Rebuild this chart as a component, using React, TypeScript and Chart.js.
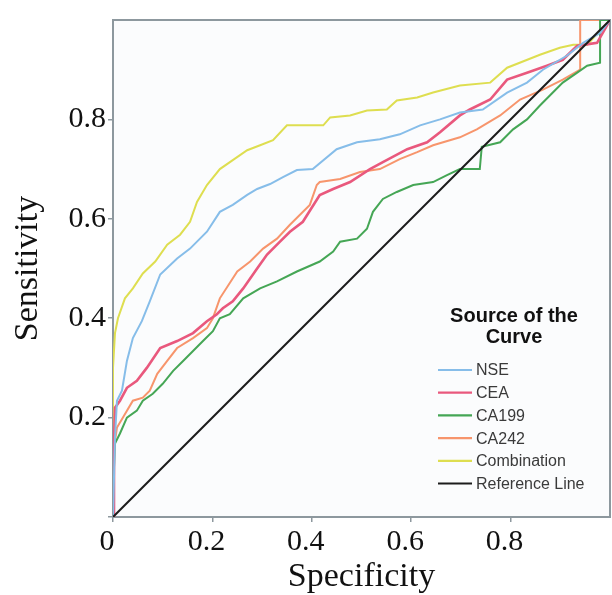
import React, { useEffect, useRef } from 'react';
import { Chart, registerables } from 'chart.js';

Chart.register(...registerables);

// ---------- data ----------
const SERIES_NAMES = ['NSE', 'CEA', 'CA199', 'CA242', 'Combination', 'Reference Line'];
const SERIES_COLORS = ['#86bde9', '#e9587d', '#45a655', '#f7956c', '#dede50', '#1c1c1c'];
const SERIES_WIDTHS = [2, 2.6, 2, 2, 2, 2];

const NSE_X = [0, 0.004, 0.008, 0.018, 0.028, 0.04, 0.058, 0.074, 0.095, 0.129, 0.155, 0.189, 0.215, 0.241, 0.27, 0.29, 0.316, 0.342, 0.37, 0.402, 0.45, 0.491, 0.537, 0.577, 0.618, 0.658, 0.698, 0.744, 0.793, 0.833, 0.865, 0.913, 0.946, 0.98, 1];
const NSE_Y = [0, 0.16, 0.234, 0.254, 0.314, 0.36, 0.394, 0.434, 0.488, 0.52, 0.54, 0.574, 0.614, 0.628, 0.648, 0.66, 0.67, 0.684, 0.698, 0.7, 0.74, 0.754, 0.76, 0.77, 0.788, 0.8, 0.814, 0.82, 0.854, 0.874, 0.9, 0.928, 0.954, 0.974, 1];

const CEA_X = [0, 0.002, 0.004, 0.014, 0.028, 0.048, 0.068, 0.095, 0.129, 0.161, 0.189, 0.209, 0.221, 0.241, 0.262, 0.29, 0.31, 0.336, 0.356, 0.382, 0.416, 0.443, 0.477, 0.517, 0.543, 0.592, 0.632, 0.658, 0.698, 0.718, 0.759, 0.793, 0.833, 0.873, 0.905, 0.934, 0.974, 1];
const CEA_Y = [0, 0.15, 0.22, 0.234, 0.26, 0.274, 0.3, 0.34, 0.354, 0.37, 0.394, 0.408, 0.42, 0.434, 0.46, 0.5, 0.528, 0.554, 0.574, 0.594, 0.648, 0.66, 0.674, 0.7, 0.714, 0.74, 0.754, 0.774, 0.808, 0.82, 0.84, 0.88, 0.894, 0.908, 0.92, 0.948, 0.954, 1];

const CA199_X = [0, 0.002, 0.004, 0.014, 0.028, 0.048, 0.06, 0.08, 0.1, 0.121, 0.141, 0.161, 0.181, 0.201, 0.215, 0.235, 0.262, 0.296, 0.33, 0.37, 0.416, 0.443, 0.457, 0.491, 0.511, 0.523, 0.543, 0.571, 0.604, 0.644, 0.672, 0.698, 0.738, 0.742, 0.779, 0.805, 0.833, 0.859, 0.879, 0.905, 0.934, 0.954, 0.98, 0.98, 1];
const CA199_Y = [0, 0.1, 0.148, 0.168, 0.2, 0.214, 0.234, 0.248, 0.268, 0.294, 0.314, 0.334, 0.354, 0.374, 0.4, 0.408, 0.44, 0.46, 0.474, 0.494, 0.514, 0.534, 0.554, 0.56, 0.58, 0.614, 0.64, 0.654, 0.668, 0.674, 0.688, 0.7, 0.7, 0.745, 0.754, 0.78, 0.8, 0.828, 0.848, 0.874, 0.894, 0.908, 0.914, 1, 1];

const CA242_X = [0, 0.002, 0.008, 0.02, 0.04, 0.06, 0.074, 0.089, 0.109, 0.129, 0.161, 0.189, 0.201, 0.215, 0.25, 0.276, 0.302, 0.33, 0.356, 0.396, 0.41, 0.416, 0.457, 0.497, 0.537, 0.577, 0.612, 0.644, 0.698, 0.732, 0.779, 0.819, 0.865, 0.905, 0.94, 0.94, 1];
const CA242_Y = [0, 0.14, 0.18, 0.2, 0.234, 0.24, 0.254, 0.288, 0.314, 0.34, 0.36, 0.38, 0.4, 0.44, 0.494, 0.514, 0.54, 0.56, 0.588, 0.628, 0.668, 0.674, 0.68, 0.694, 0.7, 0.72, 0.734, 0.748, 0.764, 0.78, 0.808, 0.84, 0.86, 0.88, 0.9, 1, 1];

const COMBO_X = [0, 0, 0.004, 0.01, 0.024, 0.04, 0.06, 0.085, 0.109, 0.135, 0.155, 0.169, 0.189, 0.215, 0.241, 0.27, 0.296, 0.322, 0.35, 0.396, 0.423, 0.437, 0.477, 0.511, 0.551, 0.571, 0.612, 0.644, 0.698, 0.759, 0.793, 0.859, 0.899, 0.926, 0.954, 1];
const COMBO_Y = [0, 0.3, 0.37, 0.4, 0.44, 0.46, 0.49, 0.514, 0.548, 0.568, 0.594, 0.634, 0.668, 0.7, 0.718, 0.738, 0.748, 0.758, 0.788, 0.788, 0.788, 0.804, 0.808, 0.818, 0.82, 0.838, 0.844, 0.854, 0.868, 0.874, 0.904, 0.93, 0.944, 0.95, 0.95, 1];

const REF_X = [0, 1];
const REF_Y = [0, 1];

const X_TICKS = [0, 0.2, 0.4, 0.6, 0.8];
const X_TICK_LABELS = ['0', '0.2', '0.4', '0.6', '0.8'];
const Y_TICKS = [0, 0.2, 0.4, 0.6, 0.8];
const Y_TICK_LABELS = ['', '0.2', '0.4', '0.6', '0.8'];

const X_TITLE = 'Specificity';
const Y_TITLE = 'Sensitivity';
const LEGEND_TITLE = ['Source of the', 'Curve'];

const SERIES_X = [NSE_X, CEA_X, CA199_X, CA242_X, COMBO_X, REF_X];
const SERIES_Y = [NSE_Y, CEA_Y, CA199_Y, CA242_Y, COMBO_Y, REF_Y];

const AXIS_GRAY = '#8d989e';
const SERIF = '"Liberation Serif", "Times New Roman", serif';
const SANS = '"Liberation Sans", Arial, sans-serif';

const framePlugin = {
  id: 'frame',
  beforeDatasetsDraw(chart: any) {
    const { ctx, chartArea: a } = chart;
    ctx.save();
    ctx.fillStyle = '#fbfcfd';
    ctx.fillRect(a.left, a.top, a.right - a.left, a.bottom - a.top);
    ctx.strokeStyle = AXIS_GRAY;
    ctx.lineWidth = 2;
    ctx.strokeRect(a.left, a.top, a.right - a.left, a.bottom - a.top);
    ctx.restore();
  },
};

const legendPlugin = {
  id: 'rocLegend',
  afterDatasetsDraw(chart: any) {
    const { ctx, chartArea: a } = chart;
    ctx.save();
    ctx.textBaseline = 'middle';
    ctx.textAlign = 'center';
    ctx.fillStyle = '#111';
    ctx.font = `bold 20px ${SANS}`;
    const cx = a.right - 96;
    LEGEND_TITLE.forEach((t, i) => ctx.fillText(t, cx, a.top + 296 + i * 21));
    ctx.textAlign = 'left';
    ctx.font = `16px ${SANS}`;
    chart.data.datasets.forEach((ds: any, i: number) => {
      const y = a.top + 350 + i * 22.7;
      ctx.strokeStyle = ds.borderColor;
      ctx.lineWidth = 2.2;
      ctx.beginPath();
      ctx.moveTo(a.right - 172, y);
      ctx.lineTo(a.right - 138, y);
      ctx.stroke();
      ctx.fillStyle = '#3a3a3a';
      ctx.fillText(ds.label, a.right - 134, y + 1);
    });
    ctx.restore();
  },
};

export default function App() {
  const ref = useRef<HTMLCanvasElement | null>(null);
  useEffect(() => {
    if (!ref.current) return;
    const datasets = SERIES_NAMES.map((name, i) => ({
      label: name,
      data: SERIES_X[i].map((x, j) => ({ x, y: SERIES_Y[i][j] })),
      borderColor: SERIES_COLORS[i],
      backgroundColor: SERIES_COLORS[i],
      borderWidth: SERIES_WIDTHS[i],
      pointRadius: 0,
      fill: false,
      tension: 0,
      order: i === SERIES_NAMES.length - 1 ? 0 : 1,
    }));
    const chart = new Chart(ref.current, {
      type: 'line',
      data: { datasets },
      plugins: [framePlugin, legendPlugin],
      options: {
        animation: false,
        responsive: false,
        devicePixelRatio: 1,
        layout: { padding: { top: 17, right: 2, left: 0, bottom: 0 } },
        plugins: { legend: { display: false }, tooltip: { enabled: false } },
        scales: {
          x: {
            type: 'linear',
            min: 0,
            max: 1,
            afterBuildTicks: (s: any) => {
              s.ticks = X_TICKS.map((v) => ({ value: v }));
            },
            afterFit: (s: any) => {
              s.height = 78;
            },
            grid: { display: true, drawOnChartArea: false, drawTicks: true, tickLength: 5, color: AXIS_GRAY, lineWidth: 1.5 },
            border: { display: true, color: AXIS_GRAY, width: 2 },
            ticks: {
              callback: (_v: any, i: number) => X_TICK_LABELS[i],
              font: { family: SERIF, size: 30 },
              color: '#111',
              padding: 2,
              labelOffset: -6,
              maxRotation: 0,
            },
            title: { display: true, text: X_TITLE, font: { family: SERIF, size: 34 }, color: '#111', padding: { top: 0, bottom: -2 } },
          },
          y: {
            type: 'linear',
            min: 0,
            max: 1,
            afterBuildTicks: (s: any) => {
              s.ticks = Y_TICKS.map((v) => ({ value: v }));
            },
            afterFit: (s: any) => {
              s.width = 113;
            },
            grid: { display: true, drawOnChartArea: false, drawTicks: true, tickLength: 5, color: AXIS_GRAY, lineWidth: 1.5 },
            border: { display: true, color: AXIS_GRAY, width: 2 },
            ticks: {
              callback: (_v: any, i: number) => Y_TICK_LABELS[i],
              font: { family: SERIF, size: 30 },
              color: '#111',
              padding: 2,
            },
            title: { display: true, text: Y_TITLE, font: { family: SERIF, size: 34 }, color: '#111', padding: { top: 8, bottom: 0 } },
          },
        },
      } as any,
    });
    return () => chart.destroy();
  }, []);
  return (
    <div style={{ position: 'fixed', left: 0, top: 0, width: 612, height: 595, background: '#fff' }}>
      <canvas ref={ref} width={612} height={595} style={{ display: 'block', width: 612, height: 595 }} />
    </div>
  );
}
